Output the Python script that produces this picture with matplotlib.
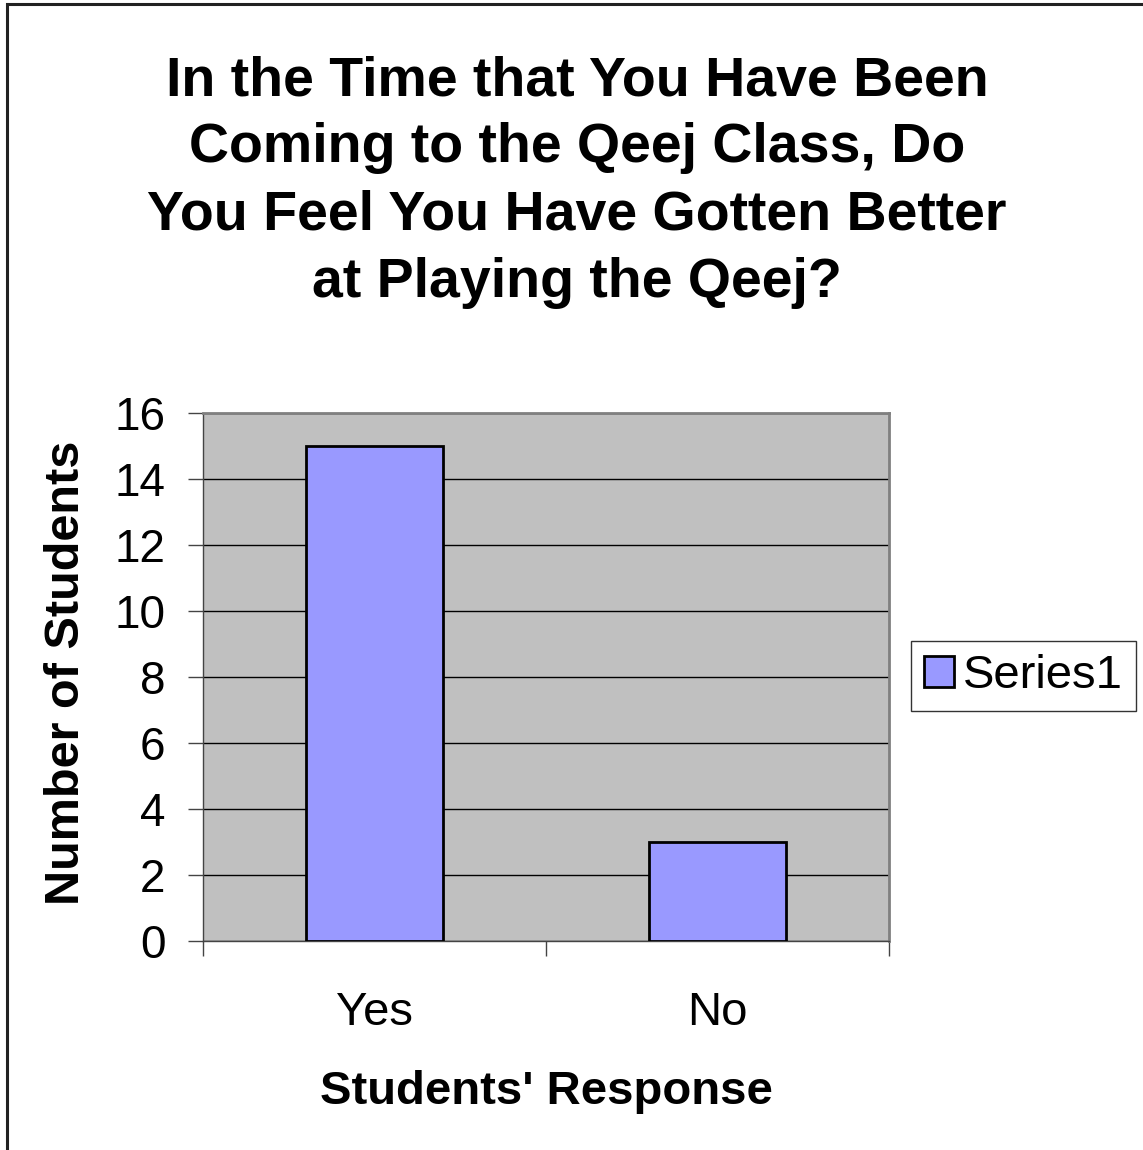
import matplotlib.pyplot as plt
import numpy as np
from matplotlib.patches import Rectangle

plt.rcParams['font.family'] = ['Liberation Sans', 'DejaVu Sans']

# data
categories = ['Yes', 'No']
values = [15, 3]
series_name = 'Series1'
yticks = [0, 2, 4, 6, 8, 10, 12, 14, 16]

fig = plt.figure(figsize=(11.43, 11.5), dpi=100)
W, H = 1143, 1150

# outer chart border (cut off at right and bottom like the original)
fig.patches.append(Rectangle((7 / W, -0.05), 1.2, 1 - 4 / H + 0.05,
                             transform=fig.transFigure, fill=False,
                             edgecolor='#222222', linewidth=2.2))

ax = fig.add_axes([203 / W, 209 / H, 686 / W, 528 / H])
ax.set_facecolor('#C0C0C0')

x = np.arange(len(categories))
ax.bar(x, values, width=0.4, color='#9999FF', edgecolor='black',
       linewidth=2, label=series_name, zorder=3)

ax.set_xlim(-0.5, 1.5)
ax.set_ylim(0, 16)
ax.set_yticks(yticks)
ax.yaxis.grid(True, color='black', linewidth=1, zorder=1)
ax.set_axisbelow(True)

ax.set_xticks(x)
ax.set_xticklabels(categories)
ax.set_xticks([-0.5, 0.5, 1.5], minor=True)
ax.tick_params(axis='x', which='major', length=0, labelsize=34, pad=36)
ax.tick_params(axis='x', which='minor', length=11, width=1, color='#444444')
ax.tick_params(axis='y', length=11, width=1, color='#444444',
               labelsize=33, pad=16)

for s in ['top', 'right']:
    ax.spines[s].set_color('#808080')
    ax.spines[s].set_linewidth(2)
for s in ['left', 'bottom']:
    ax.spines[s].set_color('#444444')
    ax.spines[s].set_linewidth(1)

fig.text(546 / W, 1 - 1092 / H, "Students' Response", ha='center',
         va='center', fontsize=34, fontweight='bold')
fig.text(67 / W, 1 - 673 / H, 'Number of Students', ha='center',
         va='center', rotation=90, fontsize=35, fontweight='bold')

fig.text(0.505, 1 - 182 / H,
         'In the Time that You Have Been\nComing to the Qeej Class, Do\n'
         'You Feel You Have Gotten Better\nat Playing the Qeej?',
         ha='center', va='center', fontsize=40, fontweight='bold',
         linespacing=1.38)

leg = ax.legend(loc='center left', bbox_to_anchor=(911 / W, 1 - 676 / H),
                bbox_transform=fig.transFigure, fontsize=34, frameon=True,
                fancybox=False, edgecolor='black', handlelength=0.62,
                handleheight=0.62, handletextpad=0.2, borderpad=0.28,
                borderaxespad=0)
leg.get_frame().set_linewidth(1)

fig.savefig('out.png', dpi=100)
